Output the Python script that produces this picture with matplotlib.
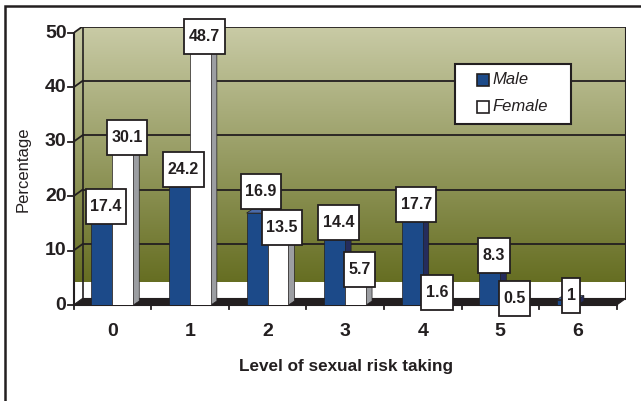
import matplotlib
matplotlib.use('Agg')
import matplotlib.pyplot as plt
import numpy as np
from matplotlib.patches import Polygon, Rectangle

categories = ['0', '1', '2', '3', '4', '5', '6']
male = [17.4, 24.2, 16.9, 14.4, 17.7, 8.3, 1]
female = [30.1, 48.7, 13.5, 5.7, 1.6, 0.5, 0]
male_labels = ['17.4', '24.2', '16.9', '14.4', '17.7', '8.3', '1']
female_labels = ['30.1', '48.7', '13.5', '5.7', '1.6', '0.5', '']
yticks = [0, 10, 20, 30, 40, 50]
series_names = ['Male', 'Female']
xlabel = 'Level of sexual risk taking'
ylabel = 'Percentage'

FONT = 'Liberation Sans'
DARK = '#231f20'
M_FRONT, M_SIDE, M_TOP = '#1c4a89', '#252c5c', '#4a6aa8'
F_FRONT, F_SIDE, F_TOP = '#ffffff', '#9c9ea2', '#e8e8e8'

W, H = 641, 401
fig = plt.figure(figsize=(W / 100, H / 100), dpi=100)


def fx(x):
    return x / W


def fy(y):
    return 1 - y / H


x_left_px, step, y0_px, ypx = 73.5, 77.6, 305, 5.44
DX, DY = 9 / step, 6.5 / ypx
n = len(categories)
xmin, xfront = -0.5, n - 0.5
xmax = xfront + DX
ytop = 50 + DY
ax = fig.add_axes([fx(x_left_px), fy(y0_px), (xmax - xmin) * step / W, ytop * ypx / H])
ax.set_axis_off()

# outer frame
fig.add_artist(Rectangle((fx(5), fy(420)), fx(660), 414 / H, transform=fig.transFigure,
                         fill=False, edgecolor=DARK, lw=1.8, zorder=0))

# walls
wall = Polygon([(xmin, 0), (xmin, 50), (xmin + DX, ytop), (xmax, ytop), (xmax, DY), (xfront, 0)],
               closed=True, facecolor='white', edgecolor='none', zorder=0)
ax.add_patch(wall)
grad_bottom = (y0_px - 282) / ypx
top_c = np.array([201, 203, 166]) / 255
bot_c = np.array([102, 110, 34]) / 255
t = np.linspace(0, 1, 256)[:, None]
img = (top_c[None, :] * (1 - t) + bot_c[None, :] * t)[:, None, :]
im = ax.imshow(img, extent=(xmin, xmax, grad_bottom, ytop), aspect='auto', zorder=0.5,
               interpolation='bilinear')
im.set_clip_path(wall)

# gridlines
for v in yticks[1:]:
    ax.plot([xmin + DX, xmax], [v + DY, v + DY], color=DARK, lw=1.3, zorder=1, solid_capstyle='butt')
    ax.plot([xmin, xmin + DX], [v, v + DY], color=DARK, lw=1.3, zorder=1)
ax.plot([xmin + DX, xmin + DX], [DY, ytop], color=DARK, lw=1.2, zorder=1)
ax.plot([xmax, xmax], [DY, ytop], color=DARK, lw=1.5, zorder=1)

# floor
ax.add_patch(Polygon([(xmin, 0), (xfront, 0), (xmax, DY), (xmin + DX, DY)], closed=True,
                     facecolor=DARK, edgecolor=DARK, lw=0.8, zorder=1.5))

# axes lines and ticks
ax.plot([xmin, xmin], [0, 50], color=DARK, lw=1.5, zorder=2, clip_on=False)
ax.plot([xmin, xfront], [0, 0], color=DARK, lw=1.5, zorder=2, clip_on=False)
for v in yticks:
    ax.plot([xmin - 6 / step, xmin], [v, v], color=DARK, lw=1.3, clip_on=False, zorder=2)
    ax.text(xmin - 7 / step, v, str(v), ha='right', va='center', fontsize=14,
            fontweight='bold', family=FONT, color=DARK, clip_on=False)
for k in range(n + 1):
    ax.plot([xmin + k, xmin + k], [0, -4 / ypx], color=DARK, lw=1.3, clip_on=False, zorder=2)
for i, c in enumerate(categories):
    ax.text(i, -26 / ypx, c, ha='center', va='center', fontsize=14, fontweight='bold',
            family=FONT, color=DARK, clip_on=False)

# bars
BW = 0.27
bdx, bdy = 6 / step, 4 / ypx


def bar3d(x0, x1, h, front, side, top, z):
    if h <= 0:
        return
    ax.add_patch(Polygon([(x1, 0), (x1 + bdx, bdy), (x1 + bdx, h + bdy), (x1, h)], closed=True,
                         facecolor=side, edgecolor=DARK, lw=0.5, zorder=z))
    ax.add_patch(Polygon([(x0, h), (x1, h), (x1 + bdx, h + bdy), (x0 + bdx, h + bdy)], closed=True,
                         facecolor=top, edgecolor=DARK, lw=0.5, zorder=z))
    ax.add_patch(Rectangle((x0, 0), x1 - x0, h, facecolor=front, edgecolor=DARK, lw=0.5, zorder=z + 0.1))


for i in range(n):
    bar3d(i - BW, i, male[i], M_FRONT, M_SIDE, M_TOP, 3 + i * 0.01)
for i in range(n):
    bar3d(i, i + BW, female[i], F_FRONT, F_SIDE, F_TOP, 4 + i * 0.01)

ax.set_xlim(xmin, xmax)
ax.set_ylim(0, ytop)

# axis titles
fig.text(fx(346), fy(366), xlabel, ha='center', va='center', fontsize=12.3, fontweight='bold',
         family=FONT, color=DARK)
fig.text(fx(23), fy(169), ylabel, ha='center', va='center', fontsize=12, rotation=90,
         family=FONT, color=DARK)

# legend
fig.add_artist(Rectangle((fx(455), fy(124)), (571 - 455) / W, 60 / H, transform=fig.transFigure,
                         facecolor='white', edgecolor=DARK, lw=1.5, zorder=20))
for j, (name, col) in enumerate(zip(series_names, [M_FRONT, 'white'])):
    yc = 80 + j * 27
    fig.add_artist(Rectangle((fx(477), fy(yc + 6)), 12 / W, 12 / H, transform=fig.transFigure,
                             facecolor=col, edgecolor=DARK, lw=1.2, zorder=21))
    fig.text(fx(492), fy(yc), name, ha='left', va='center', fontsize=12, style='italic',
             family=FONT, color=DARK, zorder=21)

# value labels (pixel-space boxes, male label nudged up when it would overlap the female one)
fig.canvas.draw()
renderer = fig.canvas.get_renderer()
inv = fig.transFigure.inverted()
BH = 35


def measure(lab):
    tt = fig.text(0, 0, lab, fontsize=11.5, fontweight='bold', family=FONT)
    w = tt.get_window_extent(renderer).width
    tt.remove()
    return w + 9


def place(lab, px, py, z):
    bw = measure(lab)
    p0 = inv.transform((px - bw / 2, py - BH / 2))
    p1 = inv.transform((px + bw / 2, py + BH / 2))
    fig.add_artist(Rectangle((p0[0], p0[1]), p1[0] - p0[0], p1[1] - p0[1],
                             transform=fig.transFigure, facecolor='white',
                             edgecolor=DARK, lw=1.3, zorder=z))
    c = inv.transform((px, py))
    fig.text(c[0], c[1], lab, ha='center', va='center', fontsize=11.5,
             fontweight='bold', family=FONT, color=DARK, zorder=z + 1)


z = 10
for i in range(n):
    mx, my = ax.transData.transform((i - BW / 2, male[i]))
    mx, my = mx + 4, my + 4
    fxp, fyp = ax.transData.transform((i + BW / 2, female[i]))
    fxp, fyp = fxp + 4, fyp + 4
    if female_labels[i]:
        mw, fw = measure(male_labels[i]), measure(female_labels[i])
        xo = abs(mx - fxp) < (mw + fw) / 2
        yo = abs(my - fyp) < BH
        if xo and yo and my > fyp:
            my = fyp + BH + 1
    place(male_labels[i], mx, my, z)
    z += 2
    if female_labels[i]:
        place(female_labels[i], fxp, fyp, z)
        z += 2

fig.savefig('out.png', dpi=100)
